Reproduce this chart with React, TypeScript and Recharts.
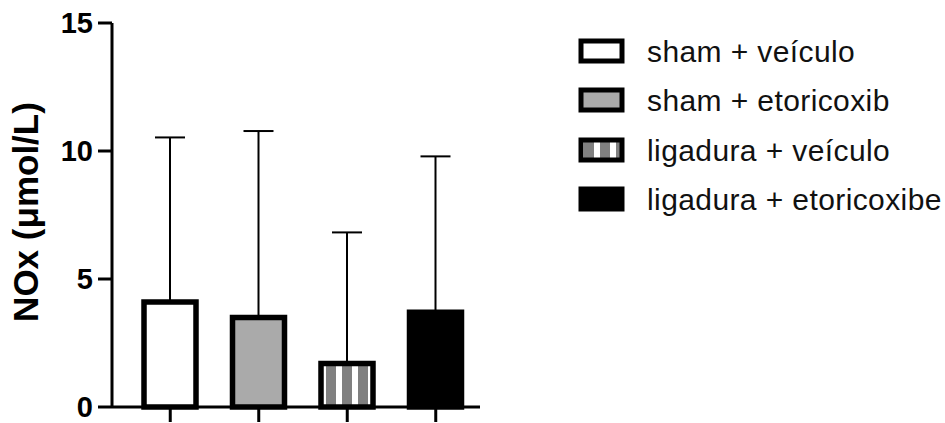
import React from 'react';
import { BarChart, Bar, XAxis, YAxis, Cell, ErrorBar } from 'recharts';

const groups = ['sham + veículo', 'sham + etoricoxib', 'ligadura + veículo', 'ligadura + etoricoxibe'];
const means = [4.1, 3.5, 1.7, 3.7];
const sds = [6.43, 7.28, 5.12, 6.09];
const yTicks = [0, 5, 10, 15];
const fills = ['#ffffff', '#aaaaaa', 'url(#stripes)', '#000000'];

const FONT = '"Liberation Sans", Arial, Helvetica, sans-serif';

const data = groups.map((g, i) => ({ group: g, mean: means[i], err: [0, sds[i]] }));

const StripeDefs = ({ id }: { id: string }) => (
  <defs>
    <pattern id={id} patternUnits="userSpaceOnUse" width="16" height="10">
      <rect x="0" y="0" width="16" height="10" fill="#ffffff" />
      <rect x="6" y="0" width="10" height="10" fill="#808080" />
    </pattern>
  </defs>
);

const LegendBox = () => (
  <div style={{ position: 'absolute', left: 578, top: 26, fontFamily: FONT }}>
    {groups.map((g, i) => (
      <div key={g} style={{ display: 'flex', alignItems: 'center', height: 49.5 }}>
        <svg width="48" height="26" style={{ display: 'block' }}>
          <StripeDefs id={`lg-stripes-${i}`} />
          <rect
            x="3"
            y="3"
            width="41"
            height="20"
            fill={i === 2 ? `url(#lg-stripes-${i})` : fills[i]}
            stroke="#000"
            strokeWidth="5"
          />
        </svg>
        <span style={{ marginLeft: 21, fontSize: 30, letterSpacing: 0.4, color: '#111', lineHeight: 1, position: 'relative', top: 1 }}>{g}</span>
      </div>
    ))}
  </div>
);

export default function App() {
  return (
    <div style={{ position: 'absolute', left: 0, top: 0, width: 945, height: 423, background: '#fff' }}>
      <BarChart width={945} height={423} data={data} margin={{ top: 23, right: 465, bottom: 0, left: 0 }}>
        <StripeDefs id="stripes" />
        <XAxis
          dataKey="group"
          height={16}
          padding={{ left: 14, right: 0 }}
          tickFormatter={() => ''}
          tickSize={15}
          axisLine={{ stroke: '#000', strokeWidth: 3 }}
          tickLine={{ stroke: '#000', strokeWidth: 3 }}
        />
        <YAxis
          width={112}
          domain={[0, 15]}
          ticks={yTicks}
          interval={0}
          tickSize={14}
          tickMargin={5}
          axisLine={{ stroke: '#000', strokeWidth: 3 }}
          tickLine={{ stroke: '#000', strokeWidth: 3 }}
          tick={{ fill: '#000', fontSize: 29, fontWeight: 'bold', fontFamily: FONT }}
          label={{
            value: 'NOx (μmol/L)',
            angle: -90,
            position: 'insideLeft',
            offset: 26,
            dy: -3,
            style: { textAnchor: 'middle', fill: '#000', fontSize: 35, fontWeight: 'bold', fontFamily: FONT },
          }}
        />
        <Bar dataKey="mean" barSize={52} stroke="#000" strokeWidth={5.5} isAnimationActive={false}>
          {data.map((d, i) => (
            <Cell key={d.group} fill={fills[i]} />
          ))}
          <ErrorBar dataKey="err" direction="y" width={15} stroke="#000" strokeWidth={2} isAnimationActive={false} />
        </Bar>
      </BarChart>
      <LegendBox />
    </div>
  );
}
